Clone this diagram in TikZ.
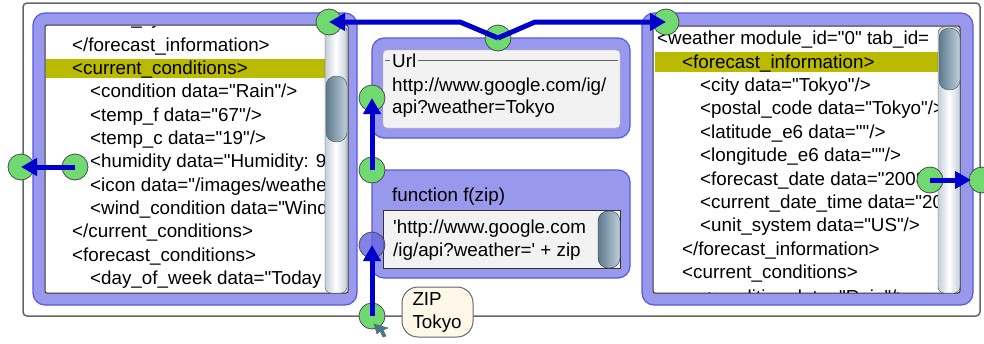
\documentclass[tikz,border=0pt]{standalone}
\usepackage{fontspec}
\setmainfont{Liberation Sans}[Ligatures=TeXOff]
\usetikzlibrary{arrows.meta}

\definecolor{panelfill}{RGB}{152,152,236}
\definecolor{panelline}{RGB}{88,88,226}
\definecolor{wireblue}{RGB}{0,0,205}
\definecolor{portgreen}{RGB}{112,218,112}
\definecolor{portblue}{RGB}{100,100,222}
\definecolor{hilite}{RGB}{186,186,0}
\definecolor{urlgray}{RGB}{242,242,242}
\definecolor{notefill}{RGB}{255,248,232}
\definecolor{trackedge}{RGB}{196,206,216}
\definecolor{thumbdark}{RGB}{92,122,142}
\definecolor{thumblight}{RGB}{192,208,218}
\definecolor{pointer}{RGB}{70,120,140}

\tikzset{
    panel/.style={draw=panelline, fill=panelfill, line width=1.2pt, rounded corners=12pt},
    pane/.style={draw=black!80, fill=white, line width=1pt, rounded corners=2pt},
    port/.style={circle, draw=black!70, fill=portgreen, line width=0.8pt,
        minimum size=26pt, inner sep=0pt},
    wire/.style={draw=wireblue, line width=5pt, -{Triangle[length=16pt,width=17pt]}},
    xml/.style={anchor=base west, inner sep=0pt, font=\fontsize{18.8}{23}\selectfont},
    track/.style={left color=trackedge, right color=trackedge, middle color=white,
        rounded corners=6pt},
    thumb/.style={left color=thumbdark, right color=thumblight, rounded corners=10pt},
}

\begin{document}
\begin{tikzpicture}[x=1pt, y=-1pt]
        \useasboundingbox (0,0) rectangle (984,343);
        % the window frame
        \draw[black!60, line width=1.5pt, rounded corners=4pt] (23,3) rectangle (980,316);

        % left panel: xml viewer
        \draw[panel] (33,13) rectangle (357,305);
        \draw[pane]  (45,25) rectangle (348,293);
        \fill[hilite] (46,59) rectangle (325,78);
        \begin{scope}
            \clip (46,26) rectangle (325,292);
            \node[xml] (lt0)  at (90,24)     {<unit\_system data="US"/>};
            \node[xml] (lt1)  at (72,51)     {</forecast\_information>};
            \node[xml] (lt2)  at (72,74.3)   {<current\_conditions>};
            \node[xml] (lt3)  at (90,97.6)   {<condition data="Rain"/>};
            \node[xml] (lt4)  at (90,121)    {<temp\_f data="67"/>};
            \node[xml] (lt5)  at (90,144.3)  {<temp\_c data="19"/>};
            \node[xml] (lt6)  at (90,167.6)  {<humidity data="Humidity: 9};
            \node[xml] (lt7)  at (90,191)    {<icon data="/images/weather};
            \node[xml] (lt8)  at (90,214.3)  {<wind\_condition data="Wind};
            \node[xml] (lt9)  at (72,237.6)  {</current\_conditions>};
            \node[xml] (lt10) at (72,261)    {<forecast\_conditions>};
            \node[xml] (lt11) at (90,284.3)  {<day\_of\_week data="Today};
        \end{scope}
        % left scrollbar
        \shade[track] (325,25) rectangle (347,293);
        \draw[black!70, rounded corners=6pt] (325,25) rectangle (347,293);
        \shade[thumb] (326,76) rectangle (347,142);
        \draw[black!70, rounded corners=10pt] (326,76) rectangle (347,142);

        % right panel: xml viewer
        \draw[panel] (642,13) rectangle (973,305);
        \draw[pane]  (653,26) rectangle (960,293);
        \fill[hilite] (655,52) rectangle (938,72);
        \begin{scope}
            \clip (654,27) rectangle (938,292);
            \node[xml] (rt0)  at (657,44.5)  {<weather module\_id="0" tab\_id=};
            \node[xml] (rt1)  at (682,68)    {<forecast\_information>};
            \node[xml] (rt2)  at (700,91.4)  {<city data="Tokyo"/>};
            \node[xml] (rt3)  at (700,114.8) {<postal\_code data="Tokyo"/>};
            \node[xml] (rt4)  at (700,138.2) {<latitude\_e6 data=""/>};
            \node[xml] (rt5)  at (700,161.6) {<longitude\_e6 data=""/>};
            \node[xml] (rt6)  at (700,185)   {<forecast\_date data="2008};
            \node[xml] (rt7)  at (700,208.4) {<current\_date\_time data="20};
            \node[xml] (rt8)  at (700,231.8) {<unit\_system data="US"/>};
            \node[xml] (rt9)  at (682,255.2) {</forecast\_information>};
            \node[xml] (rt10) at (682,278.6) {<current\_conditions>};
            \node[xml] (rt11) at (700,303)   {<condition data="Rain"/>};
        \end{scope}
        % right scrollbar
        \shade[track] (938,27) rectangle (960,293);
        \draw[black!70, rounded corners=6pt] (938,27) rectangle (960,293);
        \shade[thumb] (939,28) rectangle (960,90);
        \draw[black!70, rounded corners=10pt] (939,28) rectangle (960,90);

        % the url box
        \draw[panel] (372,38) rectangle (630,138);
        \draw[fill=urlgray, draw=black!30, rounded corners=4pt] (383,50) rectangle (620,128);
        \node[xml] (urllabel) at (392,67) {Url};
        \draw[black!60, line width=1pt] (385,60) -- (390,60);
        \draw[black!60, line width=1pt] ([xshift=2pt]urllabel.east |- 0,60) -- (618,60);
        \node[xml] (url1) at (392,91)  {http://www.google.com/ig/};
        \node[xml] (url2) at (392,113) {api?weather=Tokyo};

        % the function box
        \draw[panel] (372,170) rectangle (630,278);
        \node[xml] (fnlabel) at (392,201) {function f(zip)};
        \draw[fill=urlgray, draw=black!80, line width=1pt] (383,210) rectangle (620,268);
        \node[xml] (fn1) at (393,233) {\textquotesingle http://www.google.com};
        \node[xml] (fn2) at (393,256) {/ig/api?weather=\textquotesingle\ + zip};
        \shade[thumb] (598,211) rectangle (620,268);
        \draw[black!80, rounded corners=10pt] (598,211) rectangle (620,268);

        % the zip note
        \node[draw=black!60, fill=notefill, line width=1pt, rounded corners=16pt,
            minimum width=71pt, minimum height=50pt, text width=50pt, align=left,
            inner sep=0pt, font=\fontsize{18.8}{23}\selectfont] (zip) at (437.5,312) {ZIP\\Tokyo};

        % ports
        \node[port] (farleft)  at (21,167)  {};
        \node[port] (lpout)    at (75,167)  {};
        \node[port] (lpin)     at (329,22)  {};
        \node[port] (urlout)   at (498,38)  {};
        \node[port] (urlin)    at (372,98)  {};
        \node[port] (fnout)    at (372,170) {};
        \node[port, fill=portblue, fill opacity=0.8] (fnin) at (372,245) {};
        \node[port] (zipout)   at (372,316) {};
        \node[port] (rpin)     at (666,22)  {};
        \node[port] (rpout)    at (930,180) {};
        \node[port] (farright) at (982,180) {};

        % wires
        \draw[wire] (urlout.center) -- +(-38,-16) -- (lpin.center);
        \draw[wire] (urlout.center) -- +(37,-16) -- (rpin.center);
        \draw[wire] (fnout.center) -- (urlin.center);
        \draw[wire] (zipout.center) -- (fnin.center);
        \draw[wire] (lpout.center) -- (farleft.center);
        \draw[wire, shorten >=11pt] (rpout.center) -- (farright.center);

        % mouse pointer
        \filldraw[fill=pointer, draw=black!60, line width=0.5pt]
            (374,324) -- (388,328) -- (383,330) -- (386,336) -- (383,337) -- (380,331) -- (377,334) -- cycle;
    \end{tikzpicture}
\end{document}
